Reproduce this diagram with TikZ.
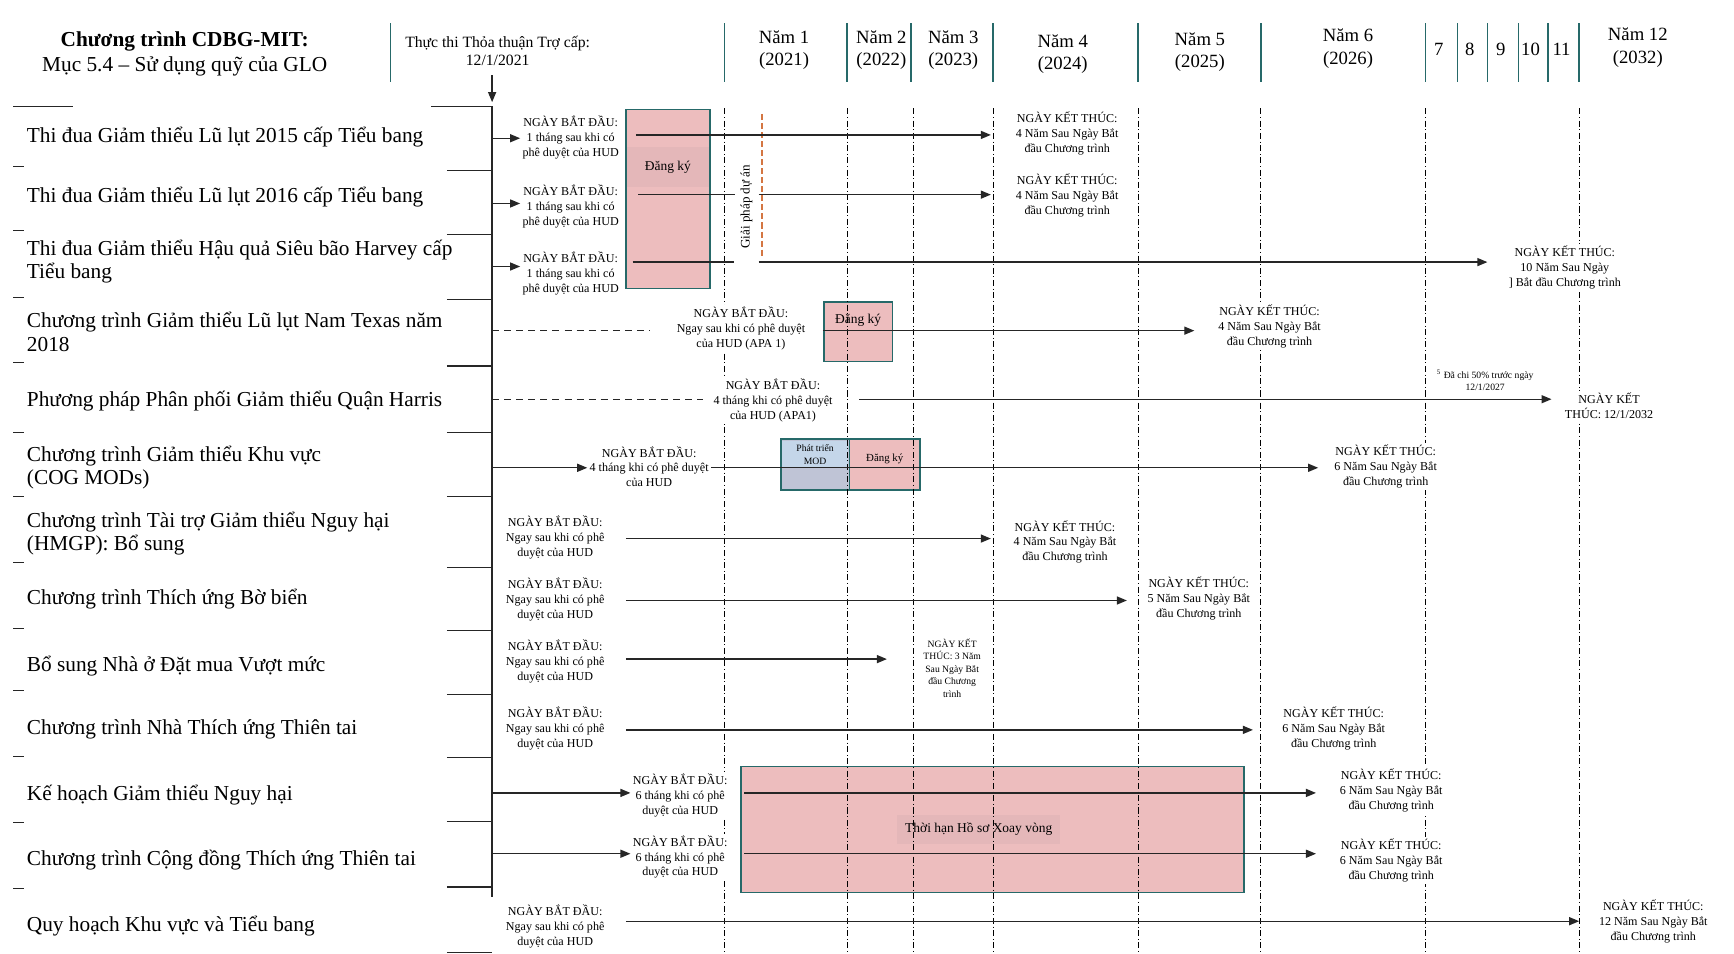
\documentclass[tikz,border=0pt]{standalone}
\usepackage{fontspec}
\setmainfont{Liberation Serif}
\usetikzlibrary{arrows.meta, positioning}
\definecolor{pinkbox}{RGB}{237,189,190}
\definecolor{pinkdark}{RGB}{228,183,185}
\definecolor{tealline}{RGB}{38,105,105}
\definecolor{modblue}{RGB}{196,214,233}
\definecolor{modgray}{RGB}{191,196,214}
\definecolor{orangedash}{RGB}{212,118,66}

\begin{document}
\begin{tikzpicture}[x=0.55pt, y=-0.55pt,
  rowlabel/.style={anchor=west, align=left, inner sep=0pt,
                   font=\fontsize{10.6}{11.6}\selectfont},
  lbl/.style={align=center, inner sep=1pt, fill=white,
              font=\fontsize{6}{7.4}\selectfont},
  tinylbl/.style={align=center, inner sep=0.5pt,
                  font=\fontsize{4.8}{6.2}\selectfont},
  boxtext/.style={align=center, inner sep=1pt, font=\fontsize{6.7}{8}\selectfont},
  yearhd/.style={align=center, font=\fontsize{9.3}{11}\selectfont},
  sep/.style={draw=tealline, line width=0.8pt},
  vgrid/.style={black, line width=0.35pt,
                dash pattern=on 3pt off 1.3pt on 0.5pt off 1.3pt},
  regbox/.style={draw=tealline, line width=0.8pt, fill=pinkbox},
  bar/.style={black!85, line width=0.65pt},
  arr/.style={bar, -{Triangle[length=5pt, width=4pt]}},
  dline/.style={bar, dash pattern=on 3.5pt off 2.5pt}
]
  \useasboundingbox (0,0) rectangle (1568,862);

  % ---- header ----
  \node[align=center, font=\fontsize{10.6}{12.5}\selectfont] (title) at (167,49)
    {\textbf{Chương trình CDBG-MIT:}\\Mục 5.4 – Sử dụng quỹ của GLO};
  \node[align=center, font=\fontsize{7.8}{9.3}\selectfont] (exec) at (450,46)
    {Thực thi Thỏa thuận Trợ cấp:\\12/1/2021};
  \foreach \x in {353,655,766,824,898,1029,1140,1289,1318,1345,1373,1400,1428}
    \draw[sep] (\x,21) -- (\x,74);
  \node[yearhd] (yr1) at (709,45) {Năm 1\\(2021)};
  \node[yearhd] (yr2) at (797,45) {Năm 2\\(2022)};
  \node[yearhd] (yr3) at (862,45) {Năm 3\\(2023)};
  \node[yearhd] (yr4) at (961,49) {Năm 4\\(2024)};
  \node[yearhd] (yr5) at (1085,47) {Năm 5\\(2025)};
  \node[yearhd] (yr6) at (1219,44) {Năm 6\\(2026)};
  \foreach \x/\n in {1301/7,1329/8,1357/9,1384/10,1412/11}
    \node[yearhd] (yr\n) at (\x,45) {\n};
  \node[yearhd] (yr12) at (1481,43) {Năm 12\\(2032)};

  % ---- left frame ----
  \coordinate (execpt) at (445,68);
  \coordinate (spinetop) at (445,96);
  \coordinate (spinebot) at (445,811);
  \draw[arr] (execpt) -- ([yshift=2pt]spinetop);
  \draw[bar] (spinetop) -- (spinebot);
  \draw[bar] (390,96) -- (spinetop);
  \foreach \y in {154,212,271,331,391,449,513,570,628,685,743,802,861}
    \draw[bar] (404,\y) -- (445,\y);
  \draw[bar] (12,96) -- (66,96);
  \foreach \y in {151,208,269,328,391,449,509,568,624,684,744,803}
    \draw[bar, line width=0.5pt] (12,\y) -- (22,\y);

  % ---- boxes ----
  \draw[regbox] (566,99) rectangle (642,261);
  \node[boxtext, fill=pinkdark, minimum width=41pt, minimum height=20pt] (reg1) at (604,151) {Đăng ký};
  \draw[regbox] (745,273) rectangle (807,327);
  \node[boxtext] (reg2) at (776,290) {Đăng ký};
  \draw[regbox, fill=modgray] (706,397) rectangle (768,443);
  \node[tinylbl, fill=modblue, minimum width=33pt, minimum height=13pt] (mod) at (737,411) {Phát triển\\MOD};
  \draw[regbox] (768,397) rectangle (832,443);
  \node[tinylbl, font=\fontsize{5.4}{6.5}\selectfont] (reg3) at (800,415) {Đăng ký};
  \draw[regbox] (670,693) rectangle (1125,807);
  \node[boxtext, fill=pinkdark, inner sep=4pt] (revolve) at (885,750) {Thời hạn Hồ sơ Xoay vòng};

  % ---- year grid ----
  \foreach \x in {655,766,826,898,1029,1140,1289,1428}
    \draw[vgrid] (\x,98) -- (\x,862);
  \draw[orangedash, line width=0.6pt, dash pattern=on 3pt off 1.5pt] (689,103) -- (689,232);
  \node[rotate=90, font=\fontsize{6.5}{8}\selectfont] (gpda) at (675,187) {Giải pháp dự án};

  % ---- row 1 ----
  \node[rowlabel] (r1) at (24,124) {Thi đua Giảm thiểu Lũ lụt 2015 cấp Tiểu bang};
  \node[lbl] (s1) at (516,124) {NGÀY BẮT ĐẦU:\\1 tháng sau khi có\\phê duyệt của HUD};
  \node[lbl] (e1) at (965,121) {NGÀY KẾT THÚC:\\4 Năm Sau Ngày Bắt\\đầu Chương trình};
  \coordinate (b1) at (445,125);
  \coordinate (a1) at (575,122);
  \coordinate (t1) at (896,122);
  \draw[arr] (b1) -- (s1.west |- b1);
  \draw[arr] (a1) -- (t1);

  % ---- row 2 ----
  \node[rowlabel] (r2) at (24,178) {Thi đua Giảm thiểu Lũ lụt 2016 cấp Tiểu bang};
  \node[lbl] (s2) at (516,187) {NGÀY BẮT ĐẦU:\\1 tháng sau khi có\\phê duyệt của HUD};
  \node[lbl] (e2) at (965,177) {NGÀY KẾT THÚC:\\4 Năm Sau Ngày Bắt\\đầu Chương trình};
  \coordinate (b2) at (445,184);
  \coordinate (a2) at (577,176);
  \coordinate (g2) at (665,176);
  \coordinate (h2) at (686,176);
  \coordinate (t2) at (896,176);
  \draw[arr] (b2) -- (s2.west |- b2);
  \draw[bar] (a2) -- (g2);
  \draw[arr] (h2) -- (t2);

  % ---- row 3 ----
  \node[rowlabel] (r3) at (24,236.5) {Thi đua Giảm thiểu Hậu quả Siêu bão Harvey cấp\\Tiểu bang};
  \node[lbl] (s3) at (516,247) {NGÀY BẮT ĐẦU:\\1 tháng sau khi có\\phê duyệt của HUD};
  \node[lbl] (e3) at (1415,242) {NGÀY KẾT THÚC:\\10 Năm Sau Ngày\\] Bắt đầu Chương trình};
  \coordinate (b3) at (445,241);
  \coordinate (a3) at (572,237);
  \coordinate (g3) at (664,237);
  \coordinate (h3) at (686,237);
  \coordinate (t3) at (1345,237);
  \draw[arr] (b3) -- (s3.west |- b3);
  \draw[bar] (a3) -- (g3);
  \draw[arr] (h3) -- (t3);

  % ---- row 4 ----
  \node[rowlabel] (r4) at (24,300) {Chương trình Giảm thiểu Lũ lụt Nam Texas năm\\2018};
  \node[lbl] (s4) at (670,297) {NGÀY BẮT ĐẦU:\\Ngay sau khi có phê duyệt\\của HUD (APA 1)};
  \node[lbl] (e4) at (1148,295) {NGÀY KẾT THÚC:\\4 Năm Sau Ngày Bắt\\đầu Chương trình};
  \coordinate (b4) at (445,299);
  \coordinate (c4) at (587,299);
  \coordinate (a4) at (744,299);
  \coordinate (t4) at (1080,299);
  \draw[dline] (b4) -- (c4);
  \draw[arr] (a4) -- (t4);

  % ---- row 5 ----
  \node[rowlabel] (r5) at (24,363) {Phương pháp Phân phối Giảm thiểu Quận Harris};
  \node[lbl] (s5) at (699,362) {NGÀY BẮT ĐẦU:\\4 tháng khi có phê duyệt\\của HUD (APA1)};
  \node[lbl] (e5) at (1455,367) {NGÀY KẾT\\THÚC: 12/1/2032};
  \node[tinylbl] (fn5) at (1343,344) {\textsuperscript{5} Đã chi 50\% trước ngày\\12/1/2027};
  \coordinate (b5) at (445,361);
  \coordinate (c5) at (636,361);
  \coordinate (a5) at (777,361);
  \coordinate (t5) at (1403,361);
  \draw[dline] (b5) -- (c5);
  \draw[arr] (a5) -- (t5);

  % ---- row 6 ----
  \node[rowlabel] (r6) at (24,423) {Chương trình Giảm thiểu Khu vực\\(COG MODs)};
  \node[lbl, fill=none] (s6) at (587,422) {NGÀY BẮT ĐẦU:\\4 tháng khi có phê duyệt\\của HUD};
  \node[lbl] (e6) at (1253,422) {NGÀY KẾT THÚC:\\6 Năm Sau Ngày Bắt\\đầu Chương trình};
  \coordinate (b6) at (445,423);
  \coordinate (t6) at (1192,423);
  \draw[arr] (b6) -- (s6.west |- b6);
  \draw[arr] (s6.east |- b6) -- (t6);

  % ---- row 7 ----
  \node[rowlabel] (r7) at (24,482.5) {Chương trình Tài trợ Giảm thiểu Nguy hại\\(HMGP): Bổ sung};
  \node[lbl] (s7) at (502,486) {NGÀY BẮT ĐẦU:\\Ngay sau khi có phê\\duyệt của HUD};
  \node[lbl] (e7) at (963,490) {NGÀY KẾT THÚC:\\4 Năm Sau Ngày Bắt\\đầu Chương trình};
  \coordinate (a7) at (566,487);
  \coordinate (t7) at (896,487);
  \draw[arr] (a7) -- (t7);

  % ---- row 8 ----
  \node[rowlabel] (r8) at (24,542) {Chương trình Thích ứng Bờ biển};
  \node[lbl] (s8) at (502,542) {NGÀY BẮT ĐẦU:\\Ngay sau khi có phê\\duyệt của HUD};
  \node[lbl] (e8) at (1084,541) {NGÀY KẾT THÚC:\\5 Năm Sau Ngày Bắt\\đầu Chương trình};
  \coordinate (a8) at (566,543);
  \coordinate (t8) at (1019,543);
  \draw[arr] (a8) -- (t8);

  % ---- row 9 ----
  \node[rowlabel] (r9) at (24,602) {Bổ sung Nhà ở Đặt mua Vượt mức};
  \node[lbl] (s9) at (502,598) {NGÀY BẮT ĐẦU:\\Ngay sau khi có phê\\duyệt của HUD};
  \node[tinylbl, fill=white] (e9) at (861,604) {NGÀY KẾT\\THÚC: 3 Năm\\Sau Ngày Bắt\\đầu Chương\\trình};
  \coordinate (a9) at (566,596);
  \coordinate (t9) at (802,596);
  \draw[arr] (a9) -- (t9);

  % ---- row 10 ----
  \node[rowlabel] (r10) at (24,660) {Chương trình Nhà Thích ứng Thiên tai};
  \node[lbl] (s10) at (502,659) {NGÀY BẮT ĐẦU:\\Ngay sau khi có phê\\duyệt của HUD};
  \node[lbl] (e10) at (1206,659) {NGÀY KẾT THÚC:\\6 Năm Sau Ngày Bắt\\đầu Chương trình};
  \coordinate (a10) at (566,660);
  \coordinate (t10) at (1133,660);
  \draw[arr] (a10) -- (t10);

  % ---- row 11 ----
  \node[rowlabel] (r11) at (24,719) {Kế hoạch Giảm thiểu Nguy hại};
  \node[lbl] (s11) at (615,719) {NGÀY BẮT ĐẦU:\\6 tháng khi có phê\\duyệt của HUD};
  \node[lbl] (e11) at (1258,715) {NGÀY KẾT THÚC:\\6 Năm Sau Ngày Bắt\\đầu Chương trình};
  \coordinate (b11) at (445,717);
  \coordinate (a11) at (673,717);
  \coordinate (t11) at (1190,717);
  \draw[arr] (b11) -- (s11.west |- b11);
  \draw[arr] (a11) -- (t11);

  % ---- row 12 ----
  \node[rowlabel] (r12) at (24,778) {Chương trình Cộng đồng Thích ứng Thiên tai};
  \node[lbl] (s12) at (615,775) {NGÀY BẮT ĐẦU:\\6 tháng khi có phê\\duyệt của HUD};
  \node[lbl] (e12) at (1258,778) {NGÀY KẾT THÚC:\\6 Năm Sau Ngày Bắt\\đầu Chương trình};
  \coordinate (b12) at (445,772);
  \coordinate (a12) at (673,772);
  \coordinate (t12) at (1190,772);
  \draw[arr] (b12) -- (s12.west |- b12);
  \draw[arr] (a12) -- (t12);

  % ---- row 13 ----
  \node[rowlabel] (r13) at (24,837) {Quy hoạch Khu vực và Tiểu bang};
  \node[lbl] (s13) at (502,838) {NGÀY BẮT ĐẦU:\\Ngay sau khi có phê\\duyệt của HUD};
  \node[lbl] (e13) at (1495,833) {NGÀY KẾT THÚC:\\12 Năm Sau Ngày Bắt\\đầu Chương trình};
  \coordinate (a13) at (566,833);
  \coordinate (t13) at (1428,833);
  \draw[arr] (a13) -- (t13);
\end{tikzpicture}
\end{document}
